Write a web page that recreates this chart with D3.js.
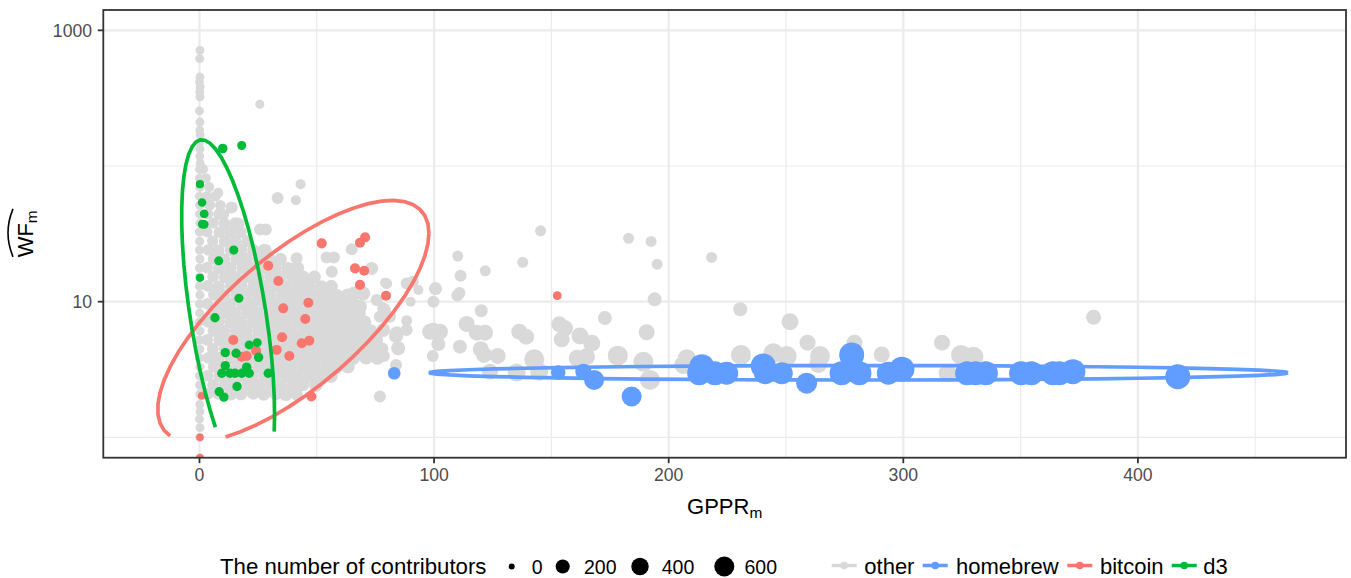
<!DOCTYPE html>
<html><head><meta charset="utf-8">
<script src="https://cdn.jsdelivr.net/npm/d3@7"></script>
<style>
body{margin:0;background:#fff}
svg{display:block}
text{font-family:"Liberation Sans",Arial,Helvetica,sans-serif}
</style>
</head><body>
<svg id="chart" width="1351" height="578"></svg>
<script>
// ---------------- data ----------------
const groups = ["other", "homebrew", "bitcoin", "d3"];
const groupColors = ["#D9D9D9", "#619CFF", "#F8766D", "#00BA38"];
const xTicks = [0, 100, 200, 300, 400];
const xMinorTicks = [50, 150, 250, 350, 450];
const yTicks = [10, 1000];
const yMinorTicks = [1, 100];
const sizeBreaks = [0, 200, 400, 600];

// points: [GPPR_m, WF_m, number of contributors]
const homebrewPoints = [
  [83.0,2.97,133],[152.9,3.00,226],[163.6,3.05,306],[168.2,2.65,600],[184.2,2.00,600],
  [214.1,3.32,1105],[213.0,2.97,992],[219.7,2.97,992],[224.7,2.97,885],[240.3,3.36,1105],
  [241.0,2.97,784],[248.2,2.97,784],[258.8,2.51,689],[273.7,2.97,992],[278.0,4.05,1105],
  [281.3,2.97,992],[293.6,2.97,885],[299.4,3.18,1105],[327.2,2.97,992],[330.8,2.97,992],
  [335.2,2.97,992],[350.2,2.97,992],[354.6,2.97,992],[363.8,2.97,992],[366.6,2.97,992],
  [372.3,3.05,1105],[417.0,2.80,1105]
];
const bitcoinPoints = [
  [52.1,26.9,50],[68.4,27.2,50],[70.6,29.8,50],[29.3,18.4,50],[33.6,14.2,50],[66.3,17.6,50],
  [70.2,16.9,50],[68.4,13.3,50],[79.5,11.07,50],[35.7,8.93,50],[46.4,9.82,50],[45.1,7.45,50],
  [14.4,5.22,50],[35.2,5.47,50],[43.6,4.94,50],[46.8,5.16,50],[24.1,4.35,50],[20.1,3.98,50],
  [18.0,3.93,50],[32.9,4.41,50],[38.3,3.98,50],[0.9,2.02,8],[47.7,2.0,50],[0.2,1.0,8],
  [0.2,0,8],[152.5,11.07,25]
];
const d3Points = [
  [9.9,134.6,40],[18.0,141.6,28],[0.2,73.5,15],[1.1,53.9,20],[2.0,44.4,25],[1.2,37.3,25],
  [2.0,37.1,25],[14.6,24.0,30],[8.2,20.0,28],[0.2,15.0,15],[16.8,10.6,28],[6.6,7.62,35],
  [21.2,4.80,28],[24.6,4.99,28],[11.0,4.21,35],[15.6,4.17,35],[25.2,3.89,35],[11.0,3.38,35],
  [9.5,2.97,35],[13.0,2.97,35],[15.1,2.97,35],[18.0,2.97,35],[20.1,3.29,35],[21.2,2.97,35],
  [29.3,2.97,35],[16.0,2.37,35],[8.4,2.17,35],[10.4,1.98,35]
];
// "other" repositories: tall column near GPPR = 0
const otherColumn = [
  [0.2,712,25],[0.1,618,25],[0.2,453,25],[0.0,416,25],[0.3,382,25],[0.1,351,25],[0.2,323,25],
  [0.0,255,25],[0.2,211,25],[0.1,184,25],[0.3,169,25],[0.0,150,25],[0.2,133,25],[0.1,118,25],
  [0.3,105,25],[0.1,1.75,25],[0.2,1.55,25],[0.0,1.36,25],[0.2,1.18,25],[0.1,1.0,25],[0.2,0,25]
];
// "other": dense cloud
const otherCloud = [
  [0.2,2.09,30],[3.6,2.09,100],[8.1,2.10,110],[13.3,2.08,140],[17.7,2.09,140],[22.9,2.11,140],[27.4,2.08,150],[32.6,2.10,150],[36.8,2.07,160],[41.3,2.09,150],
  [0.1,2.43,30],[5.8,2.44,110],[10.9,2.42,120],[15.3,2.43,140],[20.6,2.45,140],[25.0,2.42,150],[30.1,2.44,140],[34.5,2.41,150],[39.8,2.43,160],[44.1,2.45,150],[49.6,2.42,160],
  [0.0,2.84,30],[3.4,2.85,100],[8.5,2.83,120],[12.9,2.84,140],[18.1,2.86,140],[22.5,2.83,150],[27.8,2.85,140],[32.1,2.82,150],[37.3,2.84,160],[41.7,2.86,150],[46.9,2.83,170],[51.2,2.85,160],[56.0,2.82,170],
  [0.2,3.30,30],[6.1,3.31,110],[10.5,3.29,130],[15.8,3.30,140],[20.1,3.32,140],[25.4,3.28,150],[29.7,3.31,150],[34.9,3.29,160],[39.2,3.30,150],[44.6,3.33,170],[48.8,3.28,160],[54.2,3.31,170],[58.5,3.29,170],[63.3,3.32,170],
  [0.0,3.85,30],[3.7,3.86,100],[8.1,3.84,130],[13.4,3.85,140],[17.6,3.87,150],[23.0,3.83,140],[27.3,3.86,150],[32.6,3.84,160],[36.9,3.85,150],[42.2,3.88,170],[46.5,3.83,160],[51.8,3.86,170],[56.1,3.84,170],[61.4,3.87,180],[65.6,3.83,170],[71.0,3.86,180],[75.8,3.85,190],
  [0.1,4.48,30],[5.7,4.49,110],[11.0,4.47,130],[15.2,4.48,150],[20.5,4.50,140],[24.8,4.46,150],[30.2,4.49,160],[34.4,4.47,150],[39.8,4.48,170],[44.0,4.51,160],[49.4,4.46,170],[53.6,4.49,170],[58.9,4.47,180],[63.2,4.50,170],[68.6,4.46,180],[72.8,4.49,190],[77.6,4.47,190],
  [0.0,5.22,30],[3.3,5.23,100],[8.6,5.21,130],[12.8,5.22,140],[18.2,5.24,150],[22.4,5.20,150],[27.7,5.23,160],[32.0,5.21,150],[37.4,5.22,170],[41.6,5.25,160],[47.0,5.20,170],[51.2,5.23,180],[56.5,5.21,170],[60.8,5.24,180],[66.1,5.20,190],[70.4,5.23,180],[75.3,5.22,190],
  [0.2,6.08,30],[6.0,6.09,110],[10.4,6.07,130],[15.7,6.08,140],[19.9,6.10,150],[25.3,6.06,150],[29.5,6.09,160],[34.9,6.07,160],[39.1,6.08,170],[44.5,6.11,170],[48.7,6.06,170],[54.0,6.09,180],[58.3,6.07,170],[63.6,6.10,180],[67.9,6.06,190],[73.0,6.08,180],
  [0.0,7.08,30],[3.6,7.09,100],[8.0,7.07,120],[13.2,7.08,140],[17.5,7.10,150],[22.8,7.06,140],[27.1,7.09,150],[32.4,7.07,160],[36.7,7.08,150],[42.0,7.11,160],[46.3,7.06,170],[51.6,7.09,170],[55.9,7.07,180],[61.2,7.10,170],[65.5,7.06,180],[70.3,7.08,180],
  [0.1,8.25,30],[5.9,8.26,110],[10.8,8.24,120],[15.1,8.25,140],[20.4,8.27,140],[24.7,8.23,150],[30.0,8.26,150],[34.3,8.24,160],[39.6,8.25,150],[43.9,8.28,160],[49.2,8.23,170],[53.5,8.26,160],[58.8,8.24,170],[63.1,8.27,170],[68.0,8.25,170],
  [0.0,9.61,30],[3.4,9.62,100],[8.7,9.60,120],[13.0,9.61,140],[18.3,9.63,140],[22.6,9.59,150],[27.9,9.62,140],[32.2,9.60,150],[37.5,9.61,160],[41.8,9.64,150],[47.1,9.59,160],[51.4,9.62,160],[56.7,9.60,170],[61.0,9.63,160],[65.6,9.61,170],
  [0.2,11.2,30],[6.2,11.3,110],[10.6,11.1,120],[15.9,11.2,140],[20.2,11.3,140],[25.5,11.1,150],[29.8,11.2,150],[35.1,11.1,150],[39.4,11.2,160],[44.7,11.3,150],[49.0,11.1,160],[54.3,11.2,160],[58.6,11.1,160],[63.0,11.2,150],
  [0.0,13.0,30],[3.5,13.1,100],[8.2,12.9,120],[13.5,13.0,130],[17.8,13.1,140],[23.1,12.9,140],[27.4,13.0,150],[32.7,13.1,150],[37.0,12.9,150],[42.3,13.0,150],[46.6,13.1,160],[51.9,12.9,150],[56.2,13.0,150],
  [0.1,15.2,30],[5.8,15.3,100],[10.9,15.1,120],[15.4,15.2,140],[20.7,15.3,140],[25.0,15.1,140],[30.3,15.2,150],[34.6,15.3,150],[39.9,15.1,150],[44.2,15.2,150],[49.0,15.2,150],
  [0.0,17.7,30],[3.3,17.8,100],[8.4,17.6,120],[13.1,17.7,130],[18.4,17.8,140],[22.7,17.6,140],[28.0,17.7,140],[32.3,17.8,150],[37.6,17.6,140],[41.9,17.7,140],
  [0.2,20.6,30],[6.0,20.7,100],[10.5,20.5,120],[15.8,20.6,130],[20.1,20.7,140],[25.4,20.5,140],[29.7,20.6,140],[34.6,20.6,130],
  [0.0,24.0,30],[3.7,24.1,90],[8.1,23.9,110],[13.4,24.0,120],[17.7,24.1,130],[23.0,23.9,130],[27.4,24.0,120],
  [0.1,27.9,30],[5.6,28.0,90],[10.8,27.8,110],[15.3,27.9,120],[20.4,27.9,120],
  [0.0,32.6,30],[3.2,32.7,80],[8.5,32.5,100],[12.9,32.6,110],[17.6,32.6,110],
  [0.2,37.9,30],[5.9,38.0,80],[10.6,37.8,100],[15.2,37.9,100],
  [0.0,44.2,30],[3.6,44.3,70],[8.3,44.1,90],[10.5,44.2,60],
  [0.1,51.4,30],[4.4,51.5,70],[8.9,51.3,70],
  [0.0,59.9,30],[3.3,60.0,60],[6.8,59.8,60],
  [0.2,69.8,30],[4.1,69.9,50],
  [0.0,81.3,30],[2.8,81.4,40],
  [0.1,94.7,30],[1.6,94.8,40]
];
// "other": scattered repositories
const otherScatter = [
  [25.7,285,28],[43.1,73.5,49],[33.3,58.2,110],[41.1,56,49],[13.7,49.5,110],[16.5,37.3,150],[8.0,63.4,49],
  [25.8,34.1,110],[28.3,34.1,110],[64.9,24.3,110],[41.4,20.9,110],[54.2,21.2,110],[57.3,21.2,110],
  [56.4,16.6,110],[73.4,17.6,150],[40.0,17.6,110],[79.8,13.6,76],[28.2,24.0,110],[79.1,13.8,49],
  [88.3,13.6,110],[90.9,14.0,110],[93.3,12.2,49],[100.6,12.5,150],[109.9,11.1,110],[110.8,11.6,110],
  [99.7,10.0,110],[90.0,10.0,49],[78.9,8.79,110],[88.3,7.24,76],[120.1,8.58,150],[83.8,5.58,196],
  [98.3,6.0,306],[99.7,6.1,306],[102.5,6.0,306],[113.9,6.85,306],[118.2,5.91,306],[121.7,5.91,306],
  [136.3,6.01,306],[139.2,5.52,306],[101.8,4.88,196],[111.0,4.66,196],[119.9,4.46,306],[121.3,4.05,306],
  [127.1,3.98,306],[99.4,3.98,110],[78.6,3.98,110],[83.8,3.42,110],[76.9,2.0,110],[153.4,6.81,306],
  [155.8,6.37,306],[154.4,5.28,306],[162.2,5.58,370],[167.2,4.94,370],[142.7,3.76,600],[161.0,3.83,370],
  [165.0,3.93,370],[178.3,4.0,600],[190.6,5.95,306],[189.2,3.61,600],[192.0,2.65,600],[135.2,3.0,441],
  [144.8,3.05,441],[123.8,3.05,306],[207.7,3.83,441],[206.2,3.42,441],[230.8,4.05,600],[244.6,4.17,600],
  [250.3,3.98,600],[259.2,4.99,306],[264.5,3.98,600],[263.8,3.48,441],[279.2,4.99,306],[290.8,4.08,306],
  [316.5,4.99,306],[324.6,4.05,600],[329.9,3.93,600],[318.9,2.97,441],[381.1,7.67,248],[230.5,8.79,196],
  [251.7,7.11,370],[194.0,10.4,196],[172.8,7.58,196],[145.4,33.3,76],[110.1,21.7,76],[121.8,16.9,76],
  [137.8,19.5,76],[111.3,15.5,110],[182.9,29.3,76],[192.5,27.8,76],[195.1,18.9,76],[218.3,21.2,76],
  [65.9,11.5,196],[69.8,11.5,196],[68.4,9.18,196],[75.5,10.3,110],[78.3,8.93,110],[76.9,7.75,110],
  [81.2,7.75,110],[69.8,6.54,196],[78.3,6.18,196],[88.3,6.18,110],[84.1,5.85,196],[84.7,4.54,196]
];
// stat_ellipse parameters (x in GPPR, y in log10 WF):
// [group, centre x, centre log-y, x semi-extent, log-y cos term, log-y sin term]
const ellipseParams = [
  ["homebrew", 281.0, 0.476, 183.0, 0.0, 0.0534],
  ["bitcoin", 40.0, 0.8557, 57.8, 0.6493, 0.6098],
  ["d3", 12.2, 0.90, 19.8, -0.732, 1.067]
];
const ellipseSegments = 51;

// ---------------- drawing ----------------
const svg = d3.select("#chart");
const P = {l: 103.3, r: 1346, t: 10, b: 457.7};
const x = d3.scaleLinear().domain([-41.0, 488.7]).range([P.l, P.r]);
const y = d3.scaleLog().domain([Math.pow(10, -0.15), Math.pow(10, 3.15)]).range([P.b, P.t]);
const rScale = d3.scaleSqrt().domain([0, 600]).range([3, 10]);
const color = d3.scaleOrdinal().domain(groups).range(groupColors);
const yPos = v => v > 0 ? y(v) : y.range()[0];

svg.append("defs").append("clipPath").attr("id", "clip")
  .append("rect").attr("x", P.l).attr("y", P.t).attr("width", P.r - P.l).attr("height", P.b - P.t);

// grid
const grid = svg.append("g");
grid.selectAll(".xm").data(xMinorTicks).join("line")
  .attr("x1", d => x(d)).attr("x2", d => x(d)).attr("y1", P.t).attr("y2", P.b)
  .attr("stroke", "#EBEBEB").attr("stroke-width", 1.2);
grid.selectAll(".ym").data(yMinorTicks).join("line")
  .attr("y1", d => y(d)).attr("y2", d => y(d)).attr("x1", P.l).attr("x2", P.r)
  .attr("stroke", "#EBEBEB").attr("stroke-width", 1.2);
grid.selectAll(".xM").data(xTicks).join("line")
  .attr("x1", d => x(d)).attr("x2", d => x(d)).attr("y1", P.t).attr("y2", P.b)
  .attr("stroke", "#EBEBEB").attr("stroke-width", 2.2);
grid.selectAll(".yM").data(yTicks).join("line")
  .attr("y1", d => y(d)).attr("y2", d => y(d)).attr("x1", P.l).attr("x2", P.r)
  .attr("stroke", "#EBEBEB").attr("stroke-width", 2.2);

// points
const plot = svg.append("g").attr("clip-path", "url(#clip)");
const layers = [
  ["other", otherColumn.concat(otherCloud, otherScatter)],
  ["homebrew", homebrewPoints],
  ["bitcoin", bitcoinPoints],
  ["d3", d3Points]
];
layers.forEach(([g, pts]) => {
  plot.append("g").selectAll("circle").data(pts).join("circle")
    .attr("cx", d => x(d[0])).attr("cy", d => yPos(d[1])).attr("r", d => rScale(d[2]))
    .attr("fill", color(g));
});

// ellipses
const line = d3.line().defined(d => d.ly >= 0 && d.ly <= 3)
  .x(d => x(d.x)).y(d => y(Math.pow(10, d.ly)));
ellipseParams.forEach(([g, cx, cy, a, b1, b2]) => {
  const pts = d3.range(ellipseSegments + 1).map(k => {
    const t = 2 * Math.PI * k / ellipseSegments;
    return {x: cx + a * Math.cos(t), ly: cy + b1 * Math.cos(t) + b2 * Math.sin(t)};
  });
  plot.append("path").attr("d", line(pts)).attr("fill", "none")
    .attr("stroke", color(g)).attr("stroke-width", 3.7).attr("stroke-linejoin", "round");
});

// border
svg.append("rect").attr("x", P.l).attr("y", P.t).attr("width", P.r - P.l).attr("height", P.b - P.t)
  .attr("fill", "none").attr("stroke", "#333333").attr("stroke-width", 1.8);

// axes
const ax = svg.append("g");
ax.selectAll(".xt").data(xTicks).join("line")
  .attr("x1", d => x(d)).attr("x2", d => x(d)).attr("y1", P.b).attr("y2", P.b + 5.5)
  .attr("stroke", "#333333").attr("stroke-width", 1.8);
ax.selectAll(".xl").data(xTicks).join("text")
  .attr("x", d => x(d)).attr("y", 481).attr("text-anchor", "middle")
  .attr("font-size", 17.6).attr("fill", "#4D4D4D").text(d => d);
ax.selectAll(".yt").data(yTicks).join("line")
  .attr("y1", d => y(d)).attr("y2", d => y(d)).attr("x1", P.l - 5.5).attr("x2", P.l)
  .attr("stroke", "#333333").attr("stroke-width", 1.8);
ax.selectAll(".yl").data(yTicks).join("text")
  .attr("x", 92).attr("y", d => y(d) + 6.3).attr("text-anchor", "end")
  .attr("font-size", 17.6).attr("fill", "#4D4D4D").text(d => d);

// axis titles
const xt = svg.append("text").attr("x", (P.l + P.r) / 2).attr("y", 514)
  .attr("text-anchor", "middle").attr("font-size", 22).attr("fill", "#000");
xt.append("tspan").text("GPPR");
xt.append("tspan").attr("font-size", 15.4).attr("dy", 4).text("m");

const yt = svg.append("g").attr("transform", `translate(33,${(P.t + P.b) / 2}) rotate(-90)`);
const ytt = yt.append("text").attr("x", 0).attr("y", 0).attr("text-anchor", "middle")
  .attr("font-size", 22).attr("fill", "#000");
ytt.append("tspan").text("WF");
ytt.append("tspan").attr("font-size", 15.4).attr("dy", 4).text("m");
yt.append("path").attr("d", "M-23,-20 Q1,-30 25,-20").attr("fill", "none")
  .attr("stroke", "#000").attr("stroke-width", 1.6);

// size legend
const lg = svg.append("g");
lg.append("text").attr("x", 220).attr("y", 574).attr("font-size", 22.2).attr("fill", "#000")
  .text("The number of contributors");
const sizeKeyX = [511.7, 562.7, 640, 724.3];
const sizeLabX = [531.7, 584, 661.7, 744.5];
lg.selectAll(".sk").data(sizeBreaks).join("circle")
  .attr("cx", (d, i) => sizeKeyX[i]).attr("cy", 566.5).attr("r", d => rScale(d)).attr("fill", "#000");
lg.selectAll(".sl").data(sizeBreaks).join("text")
  .attr("x", (d, i) => sizeLabX[i]).attr("y", 573.5).attr("font-size", 19.5).attr("fill", "#000")
  .text(d => d);

// colour legend
const keyX0 = [831.7, 922.7, 1067.3, 1171.7];
const labX = [864.3, 956, 1100, 1203.3];
groups.forEach((g, i) => {
  lg.append("line").attr("x1", keyX0[i]).attr("x2", keyX0[i] + 25).attr("y1", 565.5).attr("y2", 565.5)
    .attr("stroke", color(g)).attr("stroke-width", 3.5);
  lg.append("circle").attr("cx", keyX0[i] + 12.5).attr("cy", 565.5).attr("r", 3.8).attr("fill", color(g));
  lg.append("text").attr("x", labX[i]).attr("y", 573.5).attr("font-size", 22).attr("fill", "#000").text(g);
});
</script>
</body></html>
